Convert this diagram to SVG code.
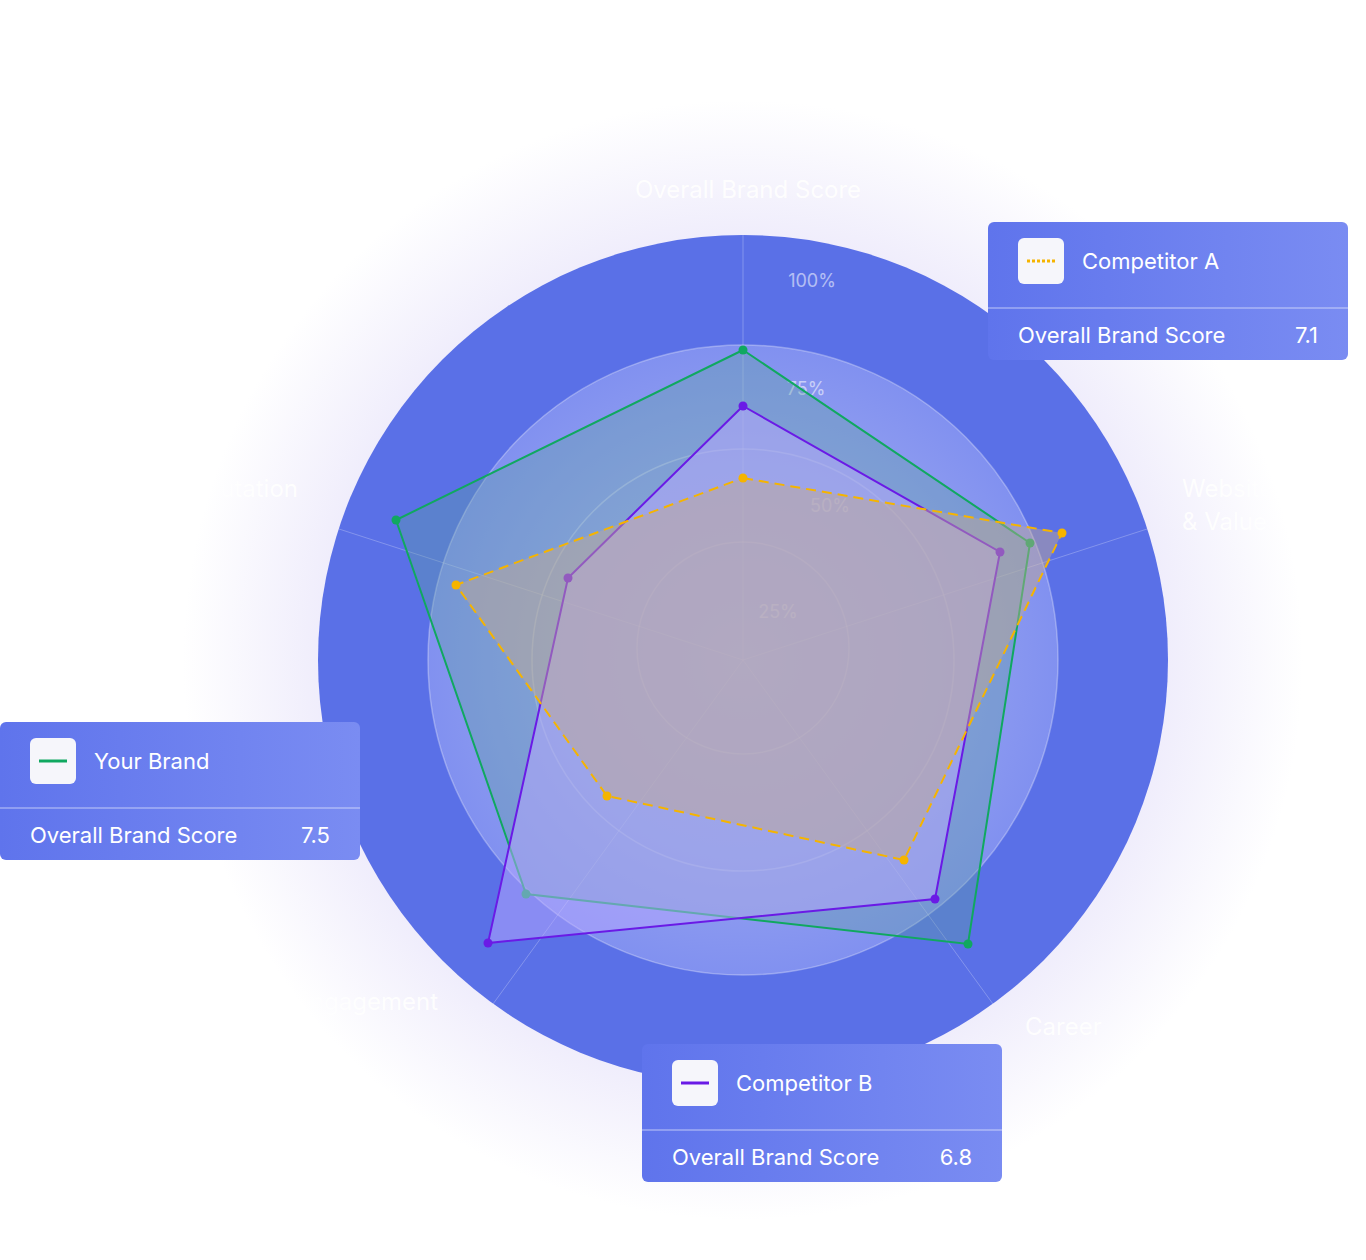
<svg xmlns="http://www.w3.org/2000/svg" width="1366" height="1260" viewBox="0 0 1366 1260">
<defs>
<radialGradient id="bg" cx="743" cy="660" r="560" gradientUnits="userSpaceOnUse"><stop offset="0.7" stop-color="#ece9fb"/><stop offset="1" stop-color="#ffffff"/></radialGradient>
<radialGradient id="inner" cx="743" cy="660" r="330" gradientUnits="userSpaceOnUse"><stop offset="0" stop-color="#a9b0ee"/><stop offset="0.6" stop-color="#93a0f0"/><stop offset="1" stop-color="#7f8ff0"/></radialGradient>
<linearGradient id="card" x1="0" y1="0" x2="1" y2="0"><stop offset="0" stop-color="#5f74ec"/><stop offset="1" stop-color="#7a8cf2"/></linearGradient>
<style>
.lbl{font-family:Inter,"Liberation Sans",sans-serif;font-size:22px;fill:#ffffff}
.ax{font-family:Inter,"Liberation Sans",sans-serif;font-size:24px;fill:#ffffff;opacity:0.9}
.pct{font-family:Inter,"Liberation Sans",sans-serif;font-size:18px;fill:#ffffff;opacity:0.55}
.grid{fill:none;stroke:#ffffff;stroke-opacity:0.3;stroke-width:1.5}
.axl{stroke:#ffffff;stroke-opacity:0.25;stroke-width:1}
</style>
</defs>
<rect width="1366" height="1260" fill="#ffffff"/>
<circle cx="743" cy="660" r="560" fill="url(#bg)"/>
<g id="radar">
<circle cx="743" cy="660" r="425" fill="#5a70e7"/>
<circle cx="743" cy="660" r="315" fill="url(#inner)"/>
<circle class="grid" cx="743" cy="660" r="315"/>
<circle class="grid" cx="743" cy="660" r="211"/>
<circle class="grid" cx="743" cy="648" r="106" fill="#ffffff" fill-opacity="0.05"/>
<line class="axl" x1="743" y1="660" x2="743" y2="235"/>
<line class="axl" x1="743" y1="660" x2="1147" y2="529"/>
<line class="axl" x1="743" y1="660" x2="993" y2="1004"/>
<line class="axl" x1="743" y1="660" x2="493" y2="1004"/>
<line class="axl" x1="743" y1="660" x2="339" y2="529"/>
<text class="pct" x="812" y="287" text-anchor="middle">100%</text>
<text class="pct" x="806" y="395" text-anchor="middle">75%</text>
<text class="pct" x="830" y="512" text-anchor="middle">50%</text>
<text class="pct" x="778" y="618" text-anchor="middle">25%</text>
</g>
<g id="axis-labels">
<text class="ax" x="748" y="198" text-anchor="middle">Overall Brand Score</text>
<text class="ax" x="1182" y="497">Website</text>
<text class="ax" x="1182" y="530">&amp; Value</text>
<text class="ax" x="298" y="497" text-anchor="end">Reputation</text>
<text class="ax" x="438" y="1010" text-anchor="end">Engagement</text>
<text class="ax" x="1025" y="1035">Career</text>
</g>
<g id="series">
<g id="your-brand">
<polygon points="743,350 1030,543 968,944 526,894 396,520" fill="#5fa0a0" fill-opacity="0.35" stroke="#10a860" stroke-width="2"/>
<g fill="#10a860"><circle cx="743" cy="350" r="4.5"/><circle cx="1030" cy="543" r="4.5"/><circle cx="968" cy="944" r="4.5"/><circle cx="526" cy="894" r="4.5"/><circle cx="396" cy="520" r="4.5"/></g>
</g>
<g id="competitor-b">
<polygon points="743,406 1000,552 935,899 488,943 568,578" fill="#b8a8ff" fill-opacity="0.5" stroke="#6a1ae6" stroke-width="2"/>
<g fill="#6a1ae6"><circle cx="743" cy="406" r="4.5"/><circle cx="1000" cy="552" r="4.5"/><circle cx="935" cy="899" r="4.5"/><circle cx="488" cy="943" r="4.5"/><circle cx="568" cy="578" r="4.5"/></g>
</g>
<g id="competitor-a">
<polygon points="743,478 1062,533 904,860 607,796 456,585" fill="#c4a890" fill-opacity="0.45" stroke="#f5b400" stroke-width="2" stroke-dasharray="10,6"/>
<g fill="#f5b400"><circle cx="743" cy="478" r="4.5"/><circle cx="1062" cy="533" r="4.5"/><circle cx="904" cy="860" r="4.5"/><circle cx="607" cy="796" r="4.5"/><circle cx="456" cy="585" r="4.5"/></g>
</g>
</g>
<g id="card-competitor-a">
<rect x="988" y="222" width="360" height="138" rx="6" fill="url(#card)"/>
<line x1="988" y1="308" x2="1348" y2="308" stroke="#ffffff" stroke-opacity="0.3" stroke-width="2"/>
<rect x="1018" y="238" width="46" height="46" rx="6" fill="#f6f6fb"/>
<line x1="1027" y1="261" x2="1055" y2="261" stroke="#f5b400" stroke-width="3" stroke-dasharray="3,2"/>
<text class="lbl" x="1082" y="269">Competitor A</text>
<text class="lbl" x="1018" y="343">Overall Brand Score</text>
<text class="lbl" x="1318" y="343" text-anchor="end">7.1</text>
</g>
<g id="card-your-brand">
<rect x="0" y="722" width="360" height="138" rx="6" fill="url(#card)"/>
<line x1="0" y1="808" x2="360" y2="808" stroke="#ffffff" stroke-opacity="0.3" stroke-width="2"/>
<rect x="30" y="738" width="46" height="46" rx="6" fill="#f6f6fb"/>
<line x1="39" y1="761" x2="67" y2="761" stroke="#10a860" stroke-width="3"/>
<text class="lbl" x="94" y="769">Your Brand</text>
<text class="lbl" x="30" y="843">Overall Brand Score</text>
<text class="lbl" x="330" y="843" text-anchor="end">7.5</text>
</g>
<g id="card-competitor-b">
<rect x="642" y="1044" width="360" height="138" rx="6" fill="url(#card)"/>
<line x1="642" y1="1130" x2="1002" y2="1130" stroke="#ffffff" stroke-opacity="0.3" stroke-width="2"/>
<rect x="672" y="1060" width="46" height="46" rx="6" fill="#f6f6fb"/>
<line x1="681" y1="1083" x2="709" y2="1083" stroke="#6a1ae6" stroke-width="3"/>
<text class="lbl" x="736" y="1091">Competitor B</text>
<text class="lbl" x="672" y="1165">Overall Brand Score</text>
<text class="lbl" x="972" y="1165" text-anchor="end">6.8</text>
</g>
</svg>
